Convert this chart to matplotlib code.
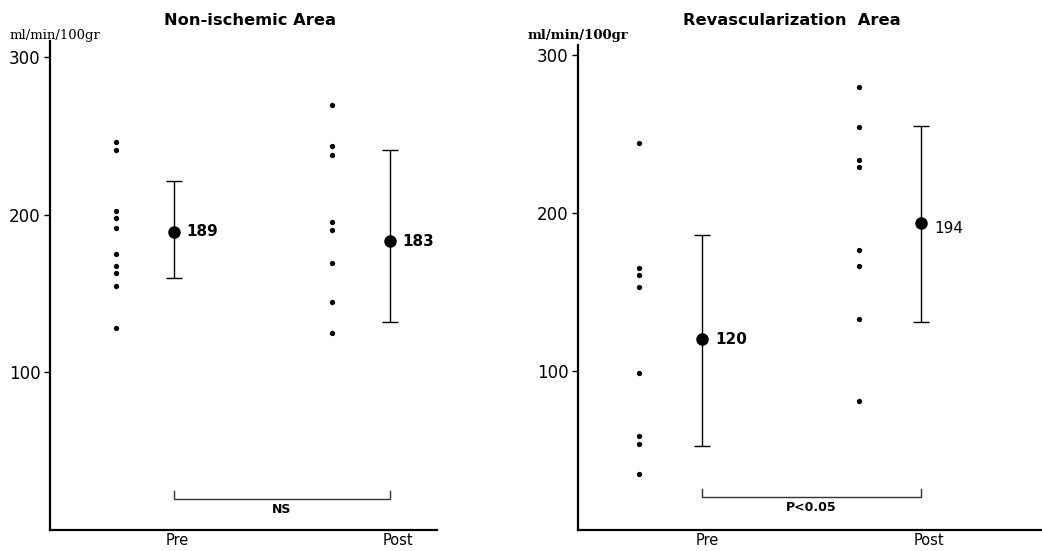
import matplotlib
matplotlib.use("Agg")
import matplotlib.pyplot as plt

# ---- data ----
groups = ["Pre", "Post"]
non_pre = [245.8, 241.1, 202.1, 197.5, 191.3, 174.7, 167.3, 162.7, 154.6, 128.3]
non_post = [269.4, 243.2, 238.0, 195.4, 190.5, 169.0, 144.7, 125.1]
non_means = [189, 183]
non_low = [160, 132]
non_high = [221, 241]

rev_pre = [244.2, 165.3, 160.7, 152.9, 98.8, 58.6, 53.3, 34.5]
rev_post = [279.7, 254.7, 233.6, 229.4, 176.5, 166.6, 133.0, 81.0]
rev_means = [120, 194]
rev_low = [52, 131]
rev_high = [186, 255]

yticks = [100, 200, 300]
unit_label = "ml/min/100gr"
titles = ["Non-ischemic Area", "Revascularization  Area"]
stats_text = ["NS", "P<0.05"]

fig = plt.figure(figsize=(10.42, 5.51), dpi=100)
ax1 = fig.add_axes([0.048, 0.038, 0.371, 0.8876])
ax2 = fig.add_axes([0.5547, 0.038, 0.4453, 0.880])

def panel(ax, pre, post, means, low, high, xlim, ylim, ind_off, lab_pos,
          title, title_x, stat, mean_bold, label_dy):
    ax.set_xlim(*xlim)
    ax.set_ylim(*ylim)
    for s in ["top", "right"]:
        ax.spines[s].set_visible(False)
    for s in ["left", "bottom"]:
        ax.spines[s].set_linewidth(1.6)
    # individual points
    ax.plot([0 + ind_off] * len(pre), pre, "o", color="black", ms=3.8, mec="none")
    ax.plot([1 + ind_off] * len(post), post, "o", color="black", ms=3.8, mec="none")
    # mean +- error
    for i in range(2):
        ax.errorbar([i], [means[i]],
                    yerr=[[means[i] - low[i]], [high[i] - means[i]]],
                    fmt="o", color="black", ms=8, capsize=6, elinewidth=1.0,
                    capthick=1.0)
        ax.text(i + 0.06, means[i] + label_dy[i], str(means[i]), fontsize=11,
                fontweight="bold" if mean_bold[i] else "normal",
                va="center", ha="left")
    # bracket
    yb = 20
    ax.plot([0.0, 0.0, 1.0, 1.0], [yb + 5, yb, yb, yb + 5], color="#333333", lw=1.0)
    ax.text(0.5, yb - 7, stat, ha="center", va="center", fontsize=9,
            fontweight="bold")
    ax.set_yticks(yticks)
    ax.set_yticklabels([str(t) for t in yticks], fontsize=12)
    ax.set_xticks(lab_pos)
    ax.set_xticklabels(groups, fontsize=10.5)
    ax.tick_params(axis="x", length=0, pad=2)
    ax.tick_params(axis="y", length=4, width=1.0, pad=3)
    fig.text(title_x, 0.963, title, ha="center", va="center", fontsize=11.7,
             fontweight="bold")

panel(ax1, non_pre, non_post, non_means, non_low, non_high,
      (-0.574, 1.218), (0, 310), -0.266, [0.018, 1.037],
      titles[0], 250 / 1042, stats_text[0], [True, True], [0, 0])
panel(ax2, rev_pre, rev_post, rev_means, rev_low, rev_high,
      (-0.564, 1.552), (-1, 306.5), -0.284, [0.027, 1.036],
      titles[1], 792 / 1042, stats_text[1], [True, False], [0, -4])

fig.text(10 / 1042, 1 - 35 / 551, unit_label, fontsize=9.5, family="DejaVu Serif",
         va="center", ha="left")
fig.text(528 / 1042, 1 - 35 / 551, unit_label, fontsize=9.5, family="DejaVu Serif",
         fontweight="bold", va="center", ha="left")

fig.savefig("out.png", dpi=100)
